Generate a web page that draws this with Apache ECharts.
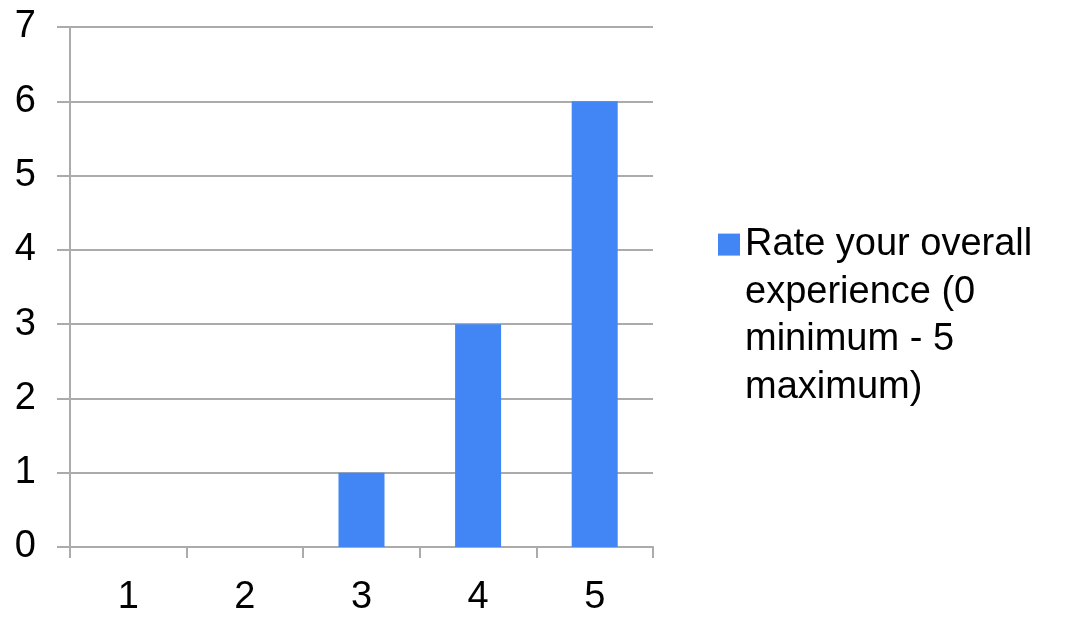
<!DOCTYPE html>
<html>
<head>
<meta charset="utf-8">
<script src="https://cdn.jsdelivr.net/npm/echarts@6/dist/echarts.min.js"></script>
<style>
html,body{margin:0;padding:0;background:#fff;}
#chart{width:1067px;height:617px;}
</style>
</head>
<body>
<div id="chart"></div>
<script>
const categories = ['1', '2', '3', '4', '5'];
const seriesName = 'Rate your overall\nexperience (0\nminimum - 5\nmaximum)';
const values = [0, 0, 1, 3, 6];
const yTicks = { min: 0, max: 7, interval: 1 };

const gridColor = '#ababab';
const chart = echarts.init(document.getElementById('chart'));
chart.setOption({
  animation: false,
  backgroundColor: '#ffffff',
  textStyle: { fontFamily: 'Liberation Sans, Arial, sans-serif' },
  grid: { left: 70, right: 414, top: 27, bottom: 68, containLabel: false },
  legend: {
    show: true,
    orient: 'vertical',
    left: 718,
    top: 78,
    padding: 0,
    itemWidth: 22,
    itemHeight: 22,
    icon: 'rect',
    data: [seriesName],
    formatter: function (name) { return '\n\n\n' + name; },
    textStyle: {
      fontSize: 38,
      color: '#000',
      fontFamily: 'Liberation Sans, Arial, sans-serif',
      lineHeight: 47.6
    }
  },
  xAxis: {
    type: 'category',
    data: categories,
    boundaryGap: true,
    axisLine: { show: true, lineStyle: { color: gridColor, width: 2 } },
    axisTick: { show: true, alignWithLabel: false, length: 11, lineStyle: { color: gridColor, width: 2 } },
    axisLabel: { fontSize: 38, color: '#000', margin: 32, fontFamily: 'Liberation Sans, Arial, sans-serif' },
    splitLine: { show: false }
  },
  yAxis: {
    type: 'value',
    min: yTicks.min,
    max: yTicks.max,
    interval: yTicks.interval,
    axisLine: { show: true, lineStyle: { color: gridColor, width: 2 } },
    axisTick: { show: true, length: 13, lineStyle: { color: gridColor, width: 2 } },
    axisLabel: { fontSize: 38, color: '#000', margin: 34, fontFamily: 'Liberation Sans, Arial, sans-serif' },
    splitLine: { show: true, lineStyle: { color: gridColor, width: 2 } }
  },
  series: [{
    name: seriesName,
    type: 'bar',
    data: values,
    barWidth: 46,
    itemStyle: { color: '#4285f4' }
  }]
});
</script>
</body>
</html>
